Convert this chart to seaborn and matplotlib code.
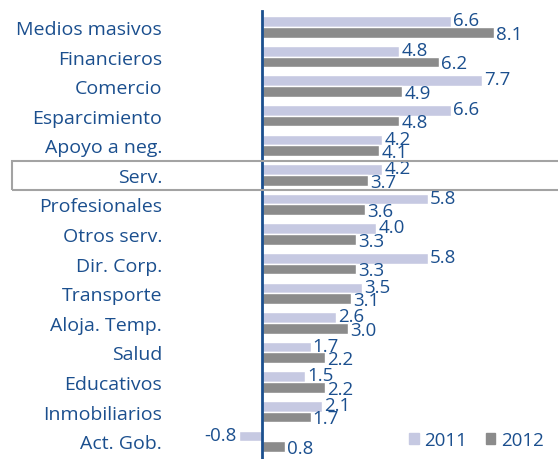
import pandas as pd
import seaborn as sns
import matplotlib.pyplot as plt
from matplotlib.patches import Rectangle, Patch

categorias = ['Medios masivos', 'Financieros', 'Comercio', 'Esparcimiento',
              'Apoyo a neg.', 'Serv.', 'Profesionales', 'Otros serv.',
              'Dir. Corp.', 'Transporte', 'Aloja. Temp.', 'Salud',
              'Educativos', 'Inmobiliarios', 'Act. Gob.']
v2011 = [6.6, 4.8, 7.7, 6.6, 4.2, 4.2, 5.8, 4.0, 5.8, 3.5, 2.6, 1.7, 1.5, 2.1, -0.8]
v2012 = [8.1, 6.2, 4.9, 4.8, 4.1, 3.7, 3.6, 3.3, 3.3, 3.1, 3.0, 2.2, 2.2, 1.7, 0.8]
anios = ['2011', '2012']

azul = '#1b4f8e'
claro = '#c6c9e2'
oscuro = '#8b8b8b'

df = pd.DataFrame({
    'cat': categorias * 2,
    'valor': v2011 + v2012,
    'anio': [anios[0]] * len(categorias) + [anios[1]] * len(categorias),
})

sns.set_style('white')
plt.rcParams['font.family'] = ['Open Sans', 'DejaVu Sans']

fig = plt.figure(figsize=(5.58, 4.6), dpi=100)
ax = fig.add_axes([0.4183, 0.0, 0.5638, 0.974])

sns.barplot(data=df, x='valor', y='cat', hue='anio', orient='h',
            palette=[claro, oscuro], width=0.72, dodge=True,
            saturation=1, legend=False, ax=ax)

ax.set_xlim(-1, 10)
ax.set_ylim(14.6, -0.54)
ax.set_xlabel('')
ax.set_ylabel('')
ax.set_xticks([])

for s in ['top', 'right', 'bottom']:
    ax.spines[s].set_visible(False)
ax.spines['left'].set_position(('data', 0))
ax.spines['left'].set_color(azul)
ax.spines['left'].set_linewidth(2)

ax.tick_params(axis='y', which='major', length=0, pad=72,
               labelsize=14, labelcolor=azul)
ax.set_yticks([i - 0.5 for i in range(len(categorias))], minor=True)
ax.tick_params(axis='y', which='minor', direction='in', length=4,
               width=1, color=azul)
for lbl in ax.get_yticklabels():
    lbl.set_horizontalalignment('right')
    lbl.set_fontweight('medium')

# etiquetas de valores
for k, cont in enumerate(ax.containers):
    dy = 1 if k == 0 else -1
    for bar in cont:
        w = bar.get_width()
        yc = bar.get_y() + bar.get_height() / 2
        if w >= 0:
            ax.annotate(f'{w:.1f}', (w, yc), xytext=(1.5, dy),
                        textcoords='offset points', ha='left', va='center',
                        color=azul, fontsize=13.5, fontweight='medium',
                        clip_on=False)
        else:
            ax.annotate(f'{w:.1f}', (w, yc), xytext=(-2, dy),
                        textcoords='offset points', ha='right', va='center',
                        color=azul, fontsize=13.5, fontweight='medium',
                        clip_on=False)

# recuadro de Serv.
fig.patches.append(Rectangle((12 / 558, 1 - 191 / 460), 560 / 558, 29 / 460,
                             transform=fig.transFigure, fill=False,
                             edgecolor='#a3a3a3', linewidth=1.5))

handles = [Patch(color=claro), Patch(color=oscuro)]
leg = ax.legend(handles, anios, loc='lower right', ncol=2, frameon=False,
                fontsize=13.5, handlelength=0.5, handleheight=0.5,
                handletextpad=0.3, columnspacing=1.0,
                bbox_to_anchor=(1.04, -0.015))
for t in leg.get_texts():
    t.set_color(azul)

fig.savefig('out.png', dpi=100)
